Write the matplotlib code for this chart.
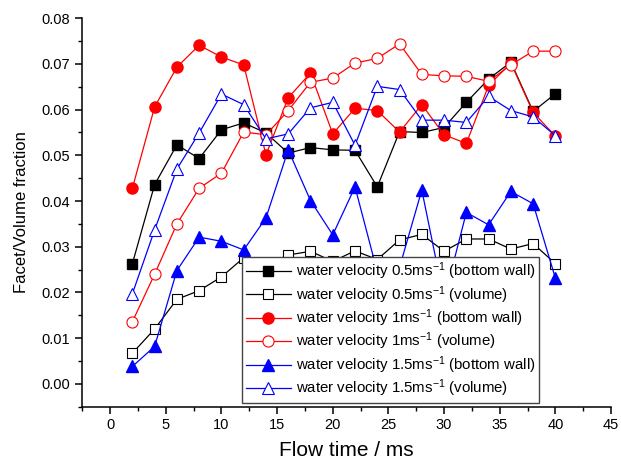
import numpy as np
import matplotlib
matplotlib.use("Agg")
import matplotlib.pyplot as plt
from matplotlib.ticker import MultipleLocator

plt.rcParams['font.family'] = ['Liberation Sans', 'DejaVu Sans']
plt.rcParams['mathtext.default'] = 'regular'

# flow time (ms)
t = [2, 4, 6, 8, 10, 12, 14, 16, 18, 20, 22, 24, 26, 28, 30, 32, 34, 36, 38, 40]

# 0.5 m/s
v05_wall = [0.0263, 0.0436, 0.0523, 0.0493, 0.0556, 0.0571, 0.0549, 0.0505, 0.0517, 0.0512,
            0.0511, 0.0431, 0.0552, 0.0550, 0.0561, 0.0616, 0.0667, 0.0704, 0.0596, 0.0635]
v05_vol = [0.0067, 0.0120, 0.0185, 0.0204, 0.0234, 0.0276, 0.0260, 0.0282, 0.0290, 0.0268,
           0.0291, 0.0272, 0.0315, 0.0327, 0.0290, 0.0317, 0.0317, 0.0295, 0.0307, 0.0263]
# 1 m/s
v1_wall = [0.0428, 0.0606, 0.0693, 0.0741, 0.0715, 0.0698, 0.0501, 0.0626, 0.0680, 0.0547,
           0.0603, 0.0598, 0.0551, 0.0611, 0.0545, 0.0526, 0.0653, 0.0702, 0.0594, 0.0542]
v1_vol = [0.0136, 0.0240, 0.0350, 0.0428, 0.0461, 0.0551, 0.0545, 0.0598, 0.0660, 0.0669,
          0.0702, 0.0712, 0.0744, 0.0677, 0.0674, 0.0673, 0.0662, 0.0698, 0.0728, 0.0728]
# 1.5 m/s
v15_wall = [0.0038, 0.0082, 0.0248, 0.0321, 0.0312, 0.0293, 0.0363, 0.0512, 0.0401, 0.0326,
            0.0431, 0.0245, 0.0255, 0.0424, 0.0185, 0.0375, 0.0348, 0.0421, 0.0394, 0.0231]
v15_vol = [0.0197, 0.0337, 0.0470, 0.0549, 0.0634, 0.0611, 0.0536, 0.0547, 0.0604, 0.0616,
           0.0522, 0.0651, 0.0644, 0.0577, 0.0577, 0.0572, 0.0629, 0.0598, 0.0584, 0.0543]

labels = ['water velocity 0.5ms$^{-1}$ (bottom wall)',
          'water velocity 0.5ms$^{-1}$ (volume)',
          'water velocity 1ms$^{-1}$ (bottom wall)',
          'water velocity 1ms$^{-1}$ (volume)',
          'water velocity 1.5ms$^{-1}$ (bottom wall)',
          'water velocity 1.5ms$^{-1}$ (volume)']

fig = plt.figure(figsize=(6.21, 4.68), dpi=100)
ax = fig.add_axes([0.1325, 0.131, 0.8515, 0.830])

lw = 0.9
ax.plot(t, v05_wall, '-s', color='black', lw=lw, ms=7, mfc='black', label=labels[0])
ax.plot(t, v05_vol, '-s', color='black', lw=lw, ms=7, mfc='white', mew=0.8, label=labels[1])
ax.plot(t, v1_wall, '-o', color='red', lw=lw, ms=8, mfc='red', label=labels[2])
ax.plot(t, v1_vol, '-o', color='red', lw=lw, ms=8, mfc='white', mew=0.8, label=labels[3])
ax.plot(t, v15_wall, '-^', color='blue', lw=lw, ms=8, mfc='blue', label=labels[4])
ax.plot(t, v15_vol, '-^', color='blue', lw=lw, ms=8, mfc='white', mew=0.8, label=labels[5])

ax.set_xlim(-2.5, 45)
ax.set_ylim(-0.005, 0.08)
ax.xaxis.set_major_locator(MultipleLocator(5))
ax.xaxis.set_minor_locator(MultipleLocator(2.5))
ax.yaxis.set_major_locator(MultipleLocator(0.01))
ax.yaxis.set_minor_locator(MultipleLocator(0.005))
ax.yaxis.set_major_formatter(plt.FormatStrFormatter('%.2f'))

for side in ['top', 'right']:
    ax.spines[side].set_visible(False)
for side in ['left', 'bottom']:
    ax.spines[side].set_linewidth(1.1)
ax.tick_params(which='major', direction='out', length=5, width=1.1, labelsize=10.5)
ax.tick_params(which='minor', direction='out', length=3, width=1.0)

ax.set_xlabel('Flow time / ms', fontsize=15, labelpad=6)
ax.set_ylabel('Facet/Volume fraction', fontsize=12, labelpad=9)

leg = ax.legend(loc='lower left', bbox_to_anchor=(0.302, 0.0095), borderaxespad=0,
                fontsize=10.8, frameon=True, fancybox=False, framealpha=1,
                edgecolor='#444444', handlelength=3, handletextpad=0.35,
                borderpad=0.25, labelspacing=0.12)
leg.get_frame().set_linewidth(1.0)

fig.savefig('out.png', dpi=100)
